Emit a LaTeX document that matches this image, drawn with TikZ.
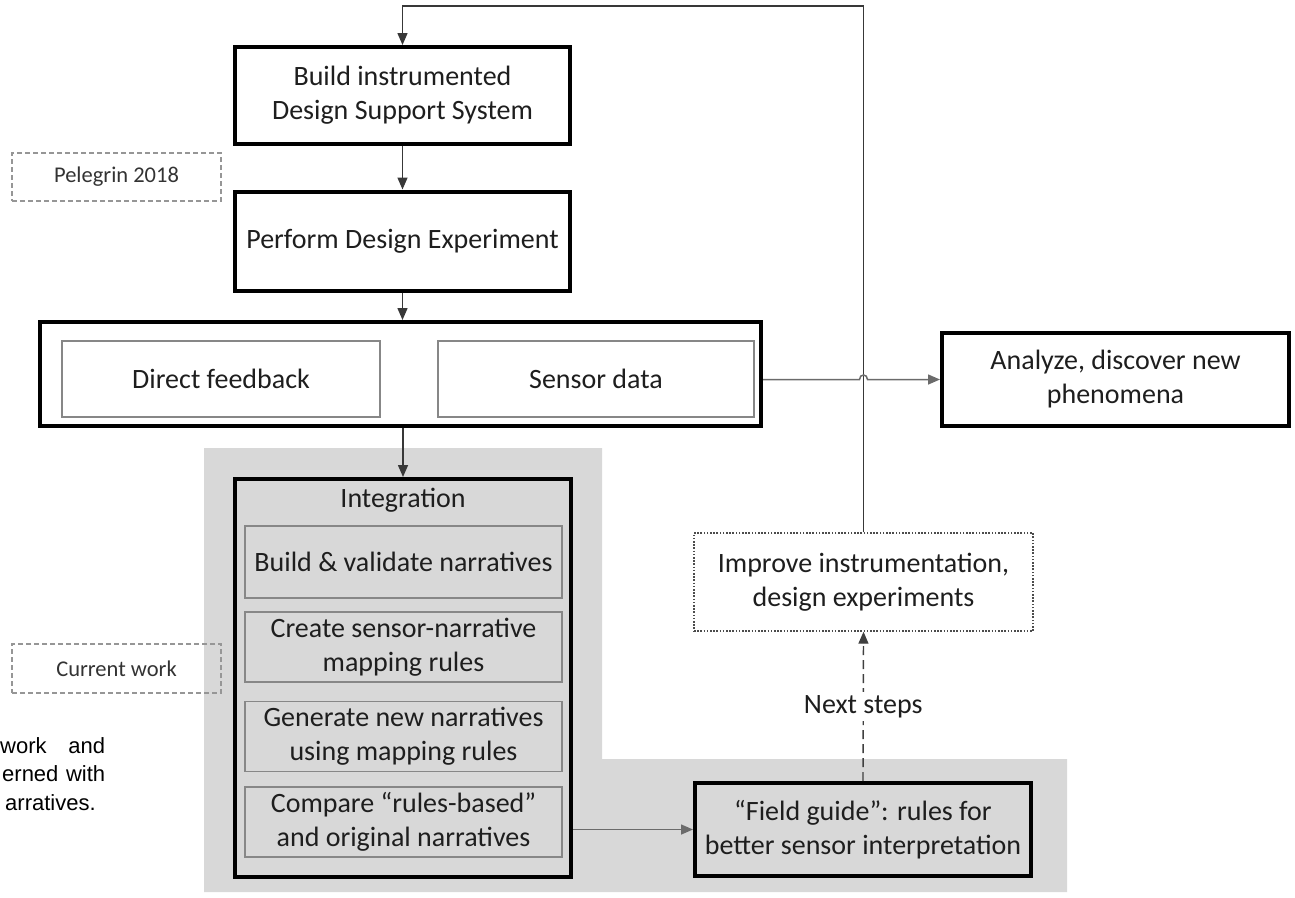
\documentclass[tikz,border=0pt]{standalone}
\usepackage{fontspec}
\setmainfont{Carlito}
\newfontfamily\notefont{Liberation Sans}
\usetikzlibrary{arrows.meta}

\definecolor{zonegray}{RGB}{216,216,216}
\definecolor{inkgray}{RGB}{30,30,30}
\definecolor{subline}{RGB}{135,135,135}
\definecolor{tagline}{RGB}{150,150,150}

\tikzset{
  txt/.style={font=\fontsize{28}{34}\selectfont, text=inkgray, align=center, inner sep=0pt},
  mainbox/.style={txt, draw=black, line width=4pt},
  subbox/.style={txt, draw=subline, line width=1.2pt},
  tagbox/.style={draw=tagline, line width=1.4pt, dash pattern=on 5pt off 3pt,
    font=\fontsize{22.5}{27}\selectfont, text=black!80, inner sep=0pt},
  planbox/.style={txt, draw=black!70, line width=1.4pt, dash pattern=on 1.6pt off 1.6pt},
  tip/.style={-{Triangle[length=12pt,width=10pt]}},
  link/.style={tip, draw=black!78, line width=1.5pt},
  softlink/.style={tip, draw=black!58, line width=1.5pt},
  notetxt/.style={font=\notefont\fontsize{22}{28}\selectfont, text=black, inner sep=0pt}
}

\begin{document}
\begin{tikzpicture}[x=1pt,y=-1pt]
\useasboundingbox (0,0) rectangle (1295,897);

% shaded zone behind the current work
\fill[zonegray] (204,448) -- (602,448) -- (602,759) -- (1067,759)
  -- (1067,892) -- (204,892) -- cycle;

% main flow
\node[mainbox, minimum width=335pt, minimum height=97pt] (b1) at (402.5,95.5)
  {Build instrumented\\Design Support System};
\node[mainbox, minimum width=335pt, minimum height=99pt] (b2) at (402.5,241)
  {Perform Design Experiment};
\node[mainbox, minimum width=721pt, minimum height=104pt] (b3) at (400.5,374) {};
\node[subbox, minimum width=318pt, minimum height=76pt] (df) at (221,379) {Direct feedback};
\node[subbox, minimum width=316pt, minimum height=76pt] (sd) at (596,379) {Sensor data};
\node[mainbox, minimum width=347pt, minimum height=93pt] (an) at (1115.5,379.5)
  {Analyze, discover new\\phenomena};

% integration block
\node[mainbox, minimum width=336pt, minimum height=398pt] (int) at (403,678) {};
\node[txt] (intlabel) at (403,500) {Integration};
\node[subbox, minimum width=317pt, minimum height=72pt] (s1) at (403.5,562)
  {Build \& validate narratives};
\node[subbox, minimum width=317pt, minimum height=70pt] (s2) at (403.5,647)
  {Create sensor-narrative\\mapping rules};
\node[subbox, minimum width=317pt, minimum height=70pt] (s3) at (403.5,736.5)
  {Generate new narratives\\using mapping rules};
\node[subbox, minimum width=317pt, minimum height=70pt] (s4) at (403.5,822)
  {Compare “rules-based”\\and original narratives};

\node[mainbox, minimum width=336pt, minimum height=93pt] (fg) at (863,829.5)
  {“Field guide”: rules for\\better sensor interpretation};
\node[planbox, minimum width=339pt, minimum height=98pt] (imp) at (863.5,582)
  {Improve instrumentation,\\design experiments};

% side tags
\node[tagbox, minimum width=209pt, minimum height=48pt] (pel) at (116.5,177) {Pelegrin 2018};
\node[tagbox, minimum width=209pt, minimum height=49pt] (cur) at (116.5,668.5) {Current work};

% note paragraph running in from the left edge
\node[notetxt, anchor=base west] (note1) at (0,753) {\makebox[105pt]{work\hfill and}};
\node[notetxt, anchor=base west] (note2) at (2,781.5) {\makebox[103pt]{erned\hfill with}};
\node[notetxt, anchor=base west] (note3) at (5,810) {arratives.};

% connectors
\coordinate (topy) at (0,6);
\draw[link] (imp.north) -- (imp.north |- topy) -| (b1.north);
\draw[link] (b1.south) -- (b2.north);
\draw[link] (b2.south) -- (b2.south |- b3.north);
\draw[link] (int.north |- b3.south) -- (int.north);
\coordinate (hop) at (imp.north |- an.west);
\draw[softlink] (b3.east |- an.west) -- ([xshift=-4pt]hop)
  .. controls +(0,-6) and +(0,-6) .. ([xshift=4pt]hop) -- (an.west);
\draw[softlink] (int.east |- fg.west) -- (fg.west);
\draw[tip, draw=black!75, line width=1.4pt, dash pattern=on 9pt off 5pt] (fg.north)
  -- node[txt, fill=white, inner sep=3pt] (next) {Next steps} (imp.south);
\end{tikzpicture}
\end{document}
